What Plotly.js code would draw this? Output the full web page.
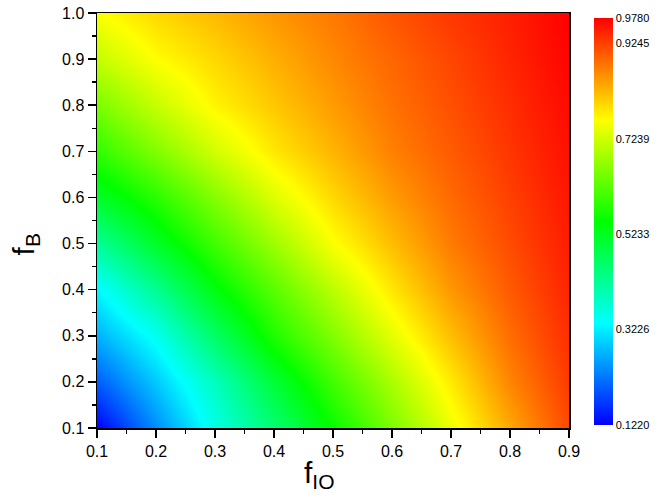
<!DOCTYPE html>
<html>
<head>
<meta charset="utf-8">
<script src="https://cdn.plot.ly/plotly-3.0.1.min.js"></script>
<style>
  body { margin: 0; background: #fff; }
  #chart { width: 658px; height: 499px; }
</style>
</head>
<body>
<div id="chart"></div>
<script>
// grid axes
var fIO = [0.1, 0.2, 0.3, 0.4, 0.5, 0.6, 0.7, 0.8, 0.9];
var fB = [0.1, 0.2, 0.3, 0.4, 0.5, 0.6, 0.7, 0.8, 0.9, 1.0];

// values, one row per f_B
var rowB01 = [0.122, 0.241, 0.356, 0.455, 0.555, 0.653, 0.750, 0.837, 0.918];
var rowB02 = [0.200, 0.291, 0.392, 0.505, 0.604, 0.693, 0.781, 0.867, 0.930];
var rowB03 = [0.270, 0.348, 0.467, 0.575, 0.658, 0.742, 0.819, 0.887, 0.940];
var rowB04 = [0.330, 0.429, 0.539, 0.624, 0.706, 0.784, 0.851, 0.903, 0.948];
var rowB05 = [0.422, 0.517, 0.602, 0.681, 0.760, 0.819, 0.875, 0.915, 0.955];
var rowB06 = [0.517, 0.584, 0.661, 0.737, 0.797, 0.848, 0.890, 0.925, 0.960];
var rowB07 = [0.590, 0.658, 0.726, 0.784, 0.827, 0.871, 0.902, 0.934, 0.965];
var rowB08 = [0.652, 0.716, 0.773, 0.811, 0.848, 0.883, 0.912, 0.941, 0.970];
var rowB09 = [0.714, 0.764, 0.797, 0.831, 0.864, 0.893, 0.920, 0.948, 0.975];
var rowB10 = [0.761, 0.797, 0.823, 0.852, 0.877, 0.907, 0.932, 0.953, 0.978];

// colorbar ticks
var cbVals = [0.1220, 0.3226, 0.5233, 0.7239, 0.9245, 0.9780];
var cbText = ['0.1220', '0.3226', '0.5233', '0.7239', '0.9245', '0.9780'];

var zGrid = [rowB01, rowB02, rowB03, rowB04, rowB05, rowB06, rowB07, rowB08, rowB09, rowB10];

var map = {
  x: fIO,
  y: fB,
  z: zGrid,
  type: 'heatmap',
  zsmooth: 'best',
  zmin: 0.122,
  zmax: 0.978,
  colorscale: [
    [0, '#0000ff'],
    [0.25, '#00ffff'],
    [0.5, '#00ff00'],
    [0.75, '#ffff00'],
    [1, '#ff0000']
  ],
  hoverinfo: 'skip',
  colorbar: {
    thickness: 19,
    thicknessmode: 'pixels',
    len: 407,
    lenmode: 'pixels',
    x: 1.0507,
    xanchor: 'left',
    xpad: 0,
    y: 0.4976,
    yanchor: 'middle',
    ypad: 0,
    outlinewidth: 0,
    ticks: '',
    tickvals: cbVals,
    ticktext: cbText,
    tickfont: { family: 'Liberation Sans, Arial, sans-serif', size: 11, color: '#000' }
  }
};

var axisFont = { family: 'Liberation Sans, Arial, sans-serif', size: 16, color: '#000' };

var layout = {
  width: 658,
  height: 499,
  margin: { l: 97, r: 88, t: 13, b: 71 },
  paper_bgcolor: '#fff',
  plot_bgcolor: '#fff',
  xaxis: {
    range: [0.1, 0.9],
    dtick: 0.1,
    tick0: 0.1,
    tickformat: '.1f',
    ticks: 'outside',
    ticklen: 8,
    tickwidth: 1.5,
    tickcolor: '#000',
    showline: true,
    linecolor: '#000',
    linewidth: 1.5,
    mirror: true,
    showgrid: false,
    zeroline: false,
    tickfont: axisFont,
    minor: { dtick: 0.05, ticks: 'outside', ticklen: 4, tickwidth: 1.5, tickcolor: '#000', showgrid: false }
  },
  yaxis: {
    range: [0.1, 1.0],
    dtick: 0.1,
    tick0: 0.1,
    tickformat: '.1f',
    ticks: 'outside',
    ticklen: 8,
    tickwidth: 1.5,
    tickcolor: '#000',
    showline: true,
    linecolor: '#000',
    linewidth: 1.5,
    mirror: true,
    showgrid: false,
    zeroline: false,
    tickfont: axisFont,
    minor: { dtick: 0.05, ticks: 'outside', ticklen: 4, tickwidth: 1.5, tickcolor: '#000', showgrid: false }
  },
  annotations: [
    {
      text: 'f<sub>IO</sub>',
      xref: 'paper', yref: 'paper',
      x: 0.471, y: -0.062,
      xanchor: 'center', yanchor: 'top',
      showarrow: false,
      font: { family: 'Liberation Sans, Arial, sans-serif', size: 30, color: '#000' }
    },
    {
      text: 'f<sub>B</sub>',
      xref: 'paper', yref: 'paper',
      x: -0.152, y: 0.443,
      xanchor: 'center', yanchor: 'middle',
      textangle: -90,
      showarrow: false,
      font: { family: 'Liberation Sans, Arial, sans-serif', size: 30, color: '#000' }
    }
  ]
};

Plotly.newPlot('chart', [map], layout, { displayModeBar: false, staticPlot: true });
</script>
</body>
</html>
